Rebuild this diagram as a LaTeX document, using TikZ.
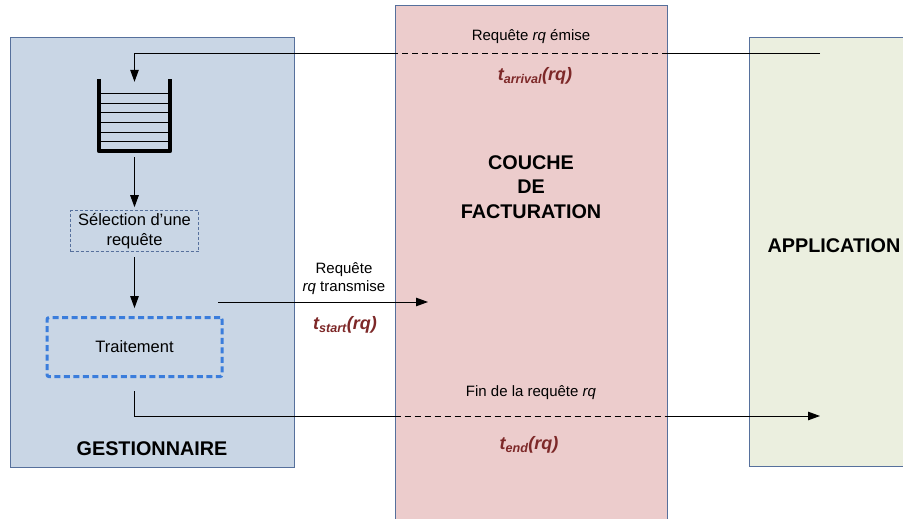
\documentclass[tikz,border=0pt]{standalone}
\usepackage{fontspec}
\setmainfont{Liberation Sans}
\usetikzlibrary{%
	arrows.meta,%
	positioning%
}
\definecolor{gest-blue}{RGB}{201,214,229}
\definecolor{couche-pink}{RGB}{236,204,204}
\definecolor{app-green}{RGB}{235,239,223}
\definecolor{edge-blue}{RGB}{86,112,156}
\definecolor{trait-blue}{RGB}{58,125,220}
\definecolor{time-red}{RGB}{125,40,40}

\begin{document}
\begin{tikzpicture}[x=1pt, y=-1pt,
		region/.style={draw=edge-blue, line width=1pt, inner sep=0pt},
		title/.style={font=\fontsize{19.8}{24.5}\selectfont\bfseries, align=center},
		small/.style={font=\fontsize{15}{18}\selectfont, align=center, inner sep=0pt},
		stepbox/.style={font=\fontsize{16.5}{19.5}\selectfont, align=center, inner sep=0pt},
		timelabel/.style={font=\fontsize{18}{20}\selectfont\bfseries\itshape, text=time-red, inner sep=0pt},
		flow/.style={line width=1pt},
		tip/.style={-{Triangle[length=12pt, width=8.5pt]}}
	]
	\useasboundingbox (0,0) rectangle (903,519);

	% regions
	\node[region, fill=gest-blue, minimum width=284pt, minimum height=429pt] (gest) at (152,252.5) {};
	\node[region, fill=couche-pink, minimum width=272pt, minimum height=530pt] (couche) at (531,271) {};
	\node[region, fill=app-green, minimum width=170pt, minimum height=428pt] (app) at (834,252) {};

	\node[title] at (152,449) {GESTIONNAIRE};
	\node[title] at (531,187) {COUCHE\\DE\\FACTURATION};
	\node[title] at (834,246) {APPLICATION};

	% file d'attente
	\node[minimum width=71pt, minimum height=72pt, inner sep=0pt] (queue) at (134.5,115) {};
	\foreach \i in {1,...,6}
		\draw[line width=1pt] ([yshift=\i*9.6pt]queue.south west) -- ([yshift=\i*9.6pt]queue.south east);
	\draw[line width=3.8pt, line join=round] (queue.north west) -- (queue.south west) -- (queue.south east) -- (queue.north east);

	\node[stepbox, draw=edge-blue, dash pattern=on 3pt off 2pt, line width=0.9pt, minimum width=128pt, minimum height=41pt, below=59pt of queue] (sel) {Sélection d’une\\requête};
	\node[stepbox, draw=trait-blue, dash pattern=on 6pt off 3.5pt, line width=3pt, rounded corners=2pt, minimum width=175pt, minimum height=59pt, below=64pt of sel] (trait) {Traitement};

	\draw[flow, tip, shorten <=6pt, shorten >=3pt] (queue.south) -- (sel.north);
	\draw[flow, tip, shorten <=5pt, shorten >=8pt] (sel.south) -- (trait.north);

	% requete emise
	\coordinate (emit) at (820,54);
	\draw[flow] (emit) -- (emit -| couche.east);
	\draw[flow, dash pattern=on 6pt off 4pt] (emit -| couche.east) -- (emit -| couche.west);
	\draw[flow, tip, shorten >=-3pt] (emit -| couche.west) -| (queue.north);
	\node[small] (emise) at (531,37) {Requête \textit{rq} émise};
	\node[timelabel] at (535,76) {t\textsubscript{arrival}(rq)};

	% requete transmise
	\coordinate (tx) at (218,302);
	\coordinate (rx) at (428,302);
	\draw[flow, tip] (tx) -- (rx);
	\node[small] at (344,279) {Requête\\\textit{rq} transmise};
	\node[timelabel] at (345,325) {t\textsubscript{start}(rq)};

	% fin de la requete
	\coordinate (fin) at (820,416);
	\draw[flow, shorten <=13pt] (trait.south) |- (fin -| couche.west);
	\draw[flow, dash pattern=on 6pt off 4pt] (fin -| couche.west) -- (fin -| couche.east);
	\draw[flow, tip] (fin -| couche.east) -- (fin);
	\node[small] at (531,393) {Fin de la requête \textit{rq}};
	\node[timelabel] at (529,445) {t\textsubscript{end}(rq)};
\end{tikzpicture}
\end{document}
